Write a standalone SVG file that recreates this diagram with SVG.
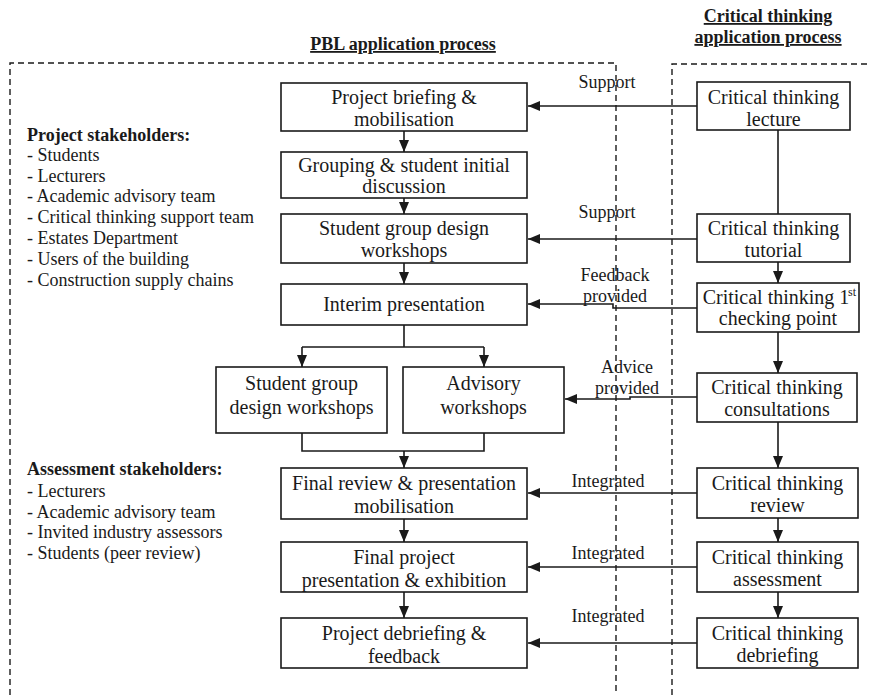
<svg xmlns="http://www.w3.org/2000/svg" width="870" height="695" viewBox="0 0 870 695">
<style>
text{font-family:"Liberation Serif","Times New Roman",serif;fill:#1a1a1a}
.bt{font-size:20px;text-anchor:middle}
.lb{font-size:18px;text-anchor:middle}
.st{font-size:18px}
.b{font-weight:bold}
.hd{font-size:18px;font-weight:bold;text-anchor:middle;text-decoration:underline}
.box{fill:#fff;stroke:#1a1a1a;stroke-width:1.6}
.dash{fill:none;stroke:#1a1a1a;stroke-width:1.4;stroke-dasharray:6 4}
.ln{fill:none;stroke:#1a1a1a;stroke-width:1.6}
</style>
<defs>
<marker id="ah" viewBox="0 0 12 10" refX="12" refY="5" markerWidth="12" markerHeight="10" markerUnits="userSpaceOnUse" orient="auto"><path d="M0,0 L12,5 L0,10 z" fill="#1a1a1a"/></marker>
</defs>
<rect width="870" height="695" fill="#fff"/>
<g id="regions">
<path class="dash" d="M10,695 V63 H616 V695"/>
<path class="dash" d="M672,695 V64 H870"/>
</g>
<g id="headings">
<text class="hd" x="403" y="50">PBL application process</text>
<text class="hd" x="768" y="22">Critical thinking</text>
<text class="hd" x="768" y="43">application process</text>
</g>
<g id="project-stakeholders">
<text class="st b" x="27" y="141">Project stakeholders:</text>
<text class="st" x="27" y="161">- Students</text>
<text class="st" x="27" y="182">- Lecturers</text>
<text class="st" x="27" y="202">- Academic advisory team</text>
<text class="st" x="27" y="223">- Critical thinking support team</text>
<text class="st" x="27" y="244">- Estates Department</text>
<text class="st" x="27" y="265">- Users of the building</text>
<text class="st" x="27" y="286">- Construction supply chains</text>
</g>
<g id="assessment-stakeholders">
<text class="st b" x="27" y="475">Assessment stakeholders:</text>
<text class="st" x="27" y="497">- Lecturers</text>
<text class="st" x="27" y="518">- Academic advisory team</text>
<text class="st" x="27" y="538">- Invited industry assessors</text>
<text class="st" x="27" y="559">- Students (peer review)</text>
</g>
<g id="connectors">
<path class="ln" d="M404,131 V152" marker-end="url(#ah)"/>
<path class="ln" d="M404,198 V214" marker-end="url(#ah)"/>
<path class="ln" d="M404,263 V284" marker-end="url(#ah)"/>
<path class="ln" d="M404,325 V347 M302,347 H484"/>
<path class="ln" d="M302,347 V367" marker-end="url(#ah)"/>
<path class="ln" d="M484,347 V367" marker-end="url(#ah)"/>
<path class="ln" d="M302,433 V451 H484 V433"/>
<path class="ln" d="M404,451 V468" marker-end="url(#ah)"/>
<path class="ln" d="M404,519 V542" marker-end="url(#ah)"/>
<path class="ln" d="M404,592 V618" marker-end="url(#ah)"/>
<path class="ln" d="M778,130 V214"/>
<path class="ln" d="M778,262 V283" marker-end="url(#ah)"/>
<path class="ln" d="M778,332 V373" marker-end="url(#ah)"/>
<path class="ln" d="M778,422 V468" marker-end="url(#ah)"/>
<path class="ln" d="M778,518 V542" marker-end="url(#ah)"/>
<path class="ln" d="M778,592 V618" marker-end="url(#ah)"/>
<path class="ln" d="M697,106 H528" marker-end="url(#ah)"/>
<path class="ln" d="M697,239 H528" marker-end="url(#ah)"/>
<path class="ln" d="M697,308 H613 V304 H528" marker-end="url(#ah)"/>
<path class="ln" d="M697,397 H630 V399 H565" marker-end="url(#ah)"/>
<path class="ln" d="M697,493 H528" marker-end="url(#ah)"/>
<path class="ln" d="M697,567 H528" marker-end="url(#ah)"/>
<path class="ln" d="M697,643 H528" marker-end="url(#ah)"/>
<text class="lb" x="607" y="88">Support</text>
<text class="lb" x="607" y="218">Support</text>
<text class="lb" x="615" y="281">Feedback</text>
<text class="lb" x="615" y="302">provided</text>
<text class="lb" x="627" y="373">Advice</text>
<text class="lb" x="627" y="394">provided</text>
<text class="lb" x="608" y="487">Integrated</text>
<text class="lb" x="608" y="559">Integrated</text>
<text class="lb" x="608" y="622">Integrated</text>
</g>
<g id="n-briefing"><rect class="box" x="281" y="83" width="246" height="48"/><text class="bt" x="404" y="104">Project briefing &amp;</text><text class="bt" x="404" y="126">mobilisation</text></g>
<g id="n-grouping"><rect class="box" x="281" y="152" width="246" height="46"/><text class="bt" x="404" y="172">Grouping &amp; student initial</text><text class="bt" x="404" y="193">discussion</text></g>
<g id="n-sgdw1"><rect class="box" x="281" y="214" width="246" height="49"/><text class="bt" x="404" y="235">Student group design</text><text class="bt" x="404" y="257">workshops</text></g>
<g id="n-interim"><rect class="box" x="281" y="284" width="246" height="41"/><text class="bt" x="404" y="311">Interim presentation</text></g>
<g id="n-sgdw2"><rect class="box" x="216" y="367" width="171" height="66"/><text class="bt" x="301.5" y="390">Student group</text><text class="bt" x="301.5" y="414">design workshops</text></g>
<g id="n-advisory"><rect class="box" x="403" y="367" width="161" height="66"/><text class="bt" x="483.5" y="390">Advisory</text><text class="bt" x="483.5" y="414">workshops</text></g>
<g id="n-finalreview"><rect class="box" x="281" y="468" width="246" height="51"/><text class="bt" x="404" y="490">Final review &amp; presentation</text><text class="bt" x="404" y="513">mobilisation</text></g>
<g id="n-finalproject"><rect class="box" x="281" y="542" width="246" height="50"/><text class="bt" x="404" y="564">Final project</text><text class="bt" x="404" y="587">presentation &amp; exhibition</text></g>
<g id="n-debriefing"><rect class="box" x="281" y="618" width="246" height="50"/><text class="bt" x="404" y="640">Project debriefing &amp;</text><text class="bt" x="404" y="663">feedback</text></g>
<g id="c-lecture"><rect class="box" x="697" y="82" width="153" height="48"/><text class="bt" x="773.5" y="104">Critical thinking</text><text class="bt" x="773.5" y="126">lecture</text></g>
<g id="c-tutorial"><rect class="box" x="697" y="214" width="153" height="48"/><text class="bt" x="773.5" y="235">Critical thinking</text><text class="bt" x="773.5" y="257">tutorial</text></g>
<g id="c-checking"><rect class="box" x="697" y="283" width="162" height="49"/><text class="bt" x="776" y="304">Critical thinking 1</text><text x="848" y="296" font-size="12">st</text><text class="bt" x="778" y="325">checking point</text></g>
<g id="c-consult"><rect class="box" x="697" y="373" width="160" height="49"/><text class="bt" x="777" y="394">Critical thinking</text><text class="bt" x="777" y="416">consultations</text></g>
<g id="c-review"><rect class="box" x="697" y="468" width="161" height="50"/><text class="bt" x="777.5" y="490">Critical thinking</text><text class="bt" x="777.5" y="512">review</text></g>
<g id="c-assessment"><rect class="box" x="697" y="542" width="161" height="50"/><text class="bt" x="777.5" y="564">Critical thinking</text><text class="bt" x="777.5" y="586">assessment</text></g>
<g id="c-debriefing"><rect class="box" x="697" y="618" width="161" height="50"/><text class="bt" x="777.5" y="640">Critical thinking</text><text class="bt" x="777.5" y="662">debriefing</text></g>
</svg>
